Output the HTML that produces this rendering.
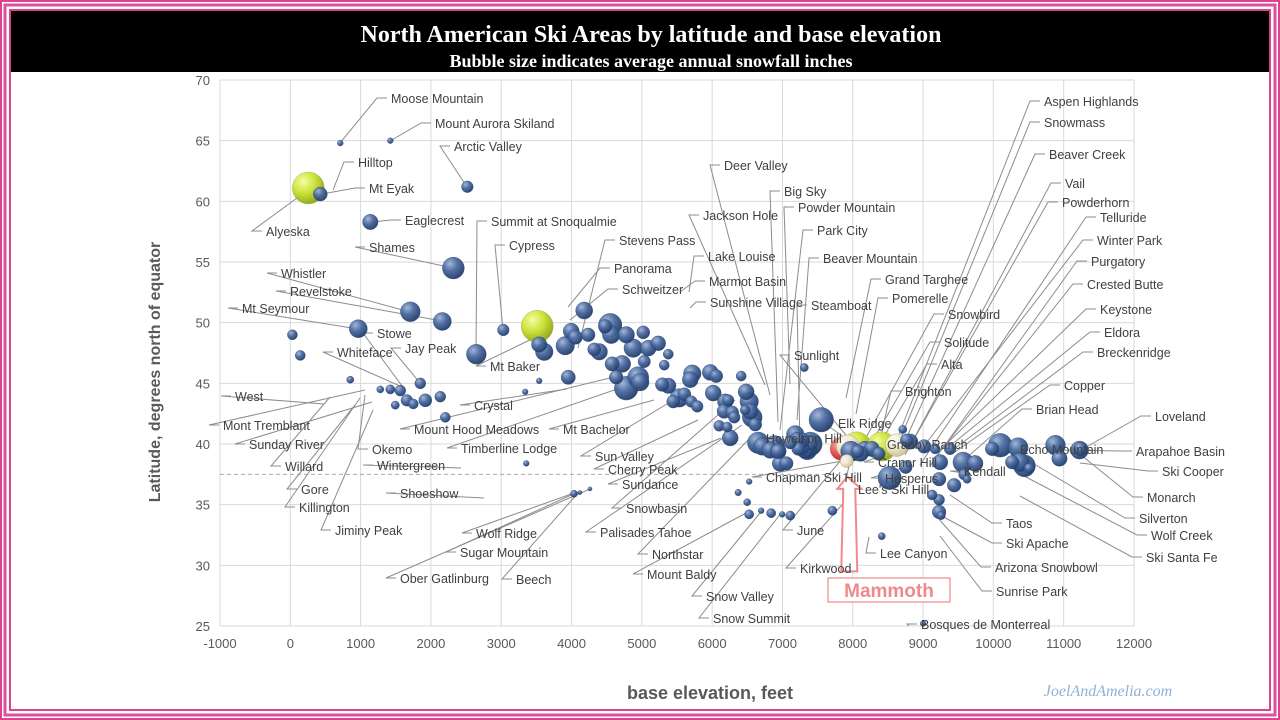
<!DOCTYPE html>
<html><head><meta charset="utf-8">
<style>
html,body{margin:0;padding:0;background:#fff;}
#wrap{position:relative;width:1280px;height:720px;overflow:hidden;background:#fff;font-family:"Liberation Sans",sans-serif;}
svg text{font-family:"Liberation Sans",sans-serif;}
</style></head>
<body>
<div id="wrap">
<svg id="chart" width="1280" height="720" viewBox="0 0 1280 720">
<defs>
<radialGradient id="gb" cx="35%" cy="30%" r="75%"><stop offset="0" stop-color="#9fb4d6"/><stop offset="0.45" stop-color="#4a6aa0"/><stop offset="1" stop-color="#1f3966"/></radialGradient>
<radialGradient id="gy" cx="35%" cy="30%" r="75%"><stop offset="0" stop-color="#f4ff9a"/><stop offset="0.5" stop-color="#c9e030"/><stop offset="1" stop-color="#8aa010"/></radialGradient>
<radialGradient id="gc" cx="35%" cy="30%" r="75%"><stop offset="0" stop-color="#ffffff"/><stop offset="0.5" stop-color="#f1ead0"/><stop offset="1" stop-color="#c8bc90"/></radialGradient>
<radialGradient id="gr" cx="35%" cy="30%" r="75%"><stop offset="0" stop-color="#ffb0b0"/><stop offset="0.5" stop-color="#e85050"/><stop offset="1" stop-color="#b02020"/></radialGradient>
</defs>
<!-- pink frame -->
<rect x="1" y="1" width="1278" height="718" fill="none" stroke="#d9448a" stroke-width="2"/>
<rect x="5" y="5" width="1270" height="710" fill="none" stroke="#e0509a" stroke-width="3"/>
<rect x="10" y="10" width="1260" height="700" fill="none" stroke="#d9448a" stroke-width="2"/>
<rect x="11" y="11" width="1258" height="61" fill="#000"/>
<text x="651" y="42" text-anchor="middle" fill="#fff" font-size="24" font-weight="bold" style="font-family:'Liberation Serif',serif">North American Ski Areas by latitude and base elevation</text>
<text x="651" y="67" text-anchor="middle" fill="#fff" font-size="18" font-weight="bold" style="font-family:'Liberation Serif',serif">Bubble size indicates average annual snowfall inches</text>
<g id="grid"></g>
<g id="leaders"></g>
<g id="bubbles"></g>
<g id="labels"></g>
<text x="160" y="372" transform="rotate(-90 160 372)" text-anchor="middle" fill="#595959" font-size="16" font-weight="bold">Latitude, degrees north of equator</text>
<text x="710" y="699" text-anchor="middle" fill="#595959" font-size="18" font-weight="bold">base elevation, feet</text>
<text x="1108" y="696" text-anchor="middle" fill="#8fb0d8" font-size="16" font-style="italic" style="font-family:'Liberation Serif',serif">JoelAndAmelia.com</text>
</svg>
</div>
<script>
const xTicks=[-1000,0,1000,2000,3000,4000,5000,6000,7000,8000,9000,10000,11000,12000];
const yTicks=[25,30,35,40,45,50,55,60,65,70];
// bubbles: elevation (ft), latitude, snowfall (in), color type
const elev=[256,427,711,1422,2518,1138,2319,1707,2162,967,3030,2646,3512,3612,4180,4479,3995,3910,4053,4237,4323,4394,3540,3953,4564,4550,4778,4877,5020,5091,5233,4578,4635,4720,4778,4948,4977,5034,5290,5319,5376,5376,5447,5532,5604,5703,5788,5689,5717,5973,6058,6228,6015,6100,6285,6314,6185,6214,6171,6257,6413,6484,6527,6612,6470,6541,6570,6655,6712,6826,6940,6883,6968,7054,6911,6940,7225,7282,7182,7396,7268,7324,7353,7396,7111,7211,7310,7552,7914,8056,7929,8412,8625,7843,7972,8070,8170,8270,8369,8113,8816,9015,8525,8753,9171,9384,9242,9583,9739,9569,8711,9442,9228,9228,9228,9257,9626,9982,10096,10268,10510,10442,10353,10883,10940,11239,11225,10380,9129,8412,7710,6498,6526,6697,6839,6996,7111,6527,6370,30,142,853,1280,1422,1493,1564,1657,1749,1849,1920,2133,2205,9000,3356,4035,4120,4262,3341,3540,8768];
const lat=[61.1,60.6,64.8,65,61.2,58.3,54.5,50.9,50.1,49.5,49.4,47.4,49.7,47.6,51.0,49.7,49.3,48.1,48.8,49.0,47.8,47.6,48.2,45.5,49.0,49.8,49.0,47.9,49.2,47.9,48.3,46.6,45.5,46.6,44.6,45.5,45.1,46.8,44.9,46.5,47.4,44.8,43.5,43.8,44.1,43.5,43.1,45.3,45.8,45.9,45.6,43.6,44.2,41.5,42.6,42.2,43.5,41.4,42.7,40.5,45.6,44.3,43.5,41.6,42.8,42.7,42.2,40.1,39.8,39.5,39.4,39.9,38.4,38.4,39.6,39.4,39.6,40.3,40.8,40.1,39.7,39.6,39.5,40.0,40.1,40.4,46.3,42.0,38.6,39.8,39.8,39.8,39.9,39.6,39.4,39.4,39.6,39.6,39.2,39.2,40.2,39.8,37.2,38.1,39.6,39.6,38.5,37.5,38.4,38.5,41.2,36.6,37.1,34.4,35.4,34.1,37.1,39.6,39.9,38.5,38.0,38.2,39.7,39.9,38.8,39.6,39.5,38.5,35.8,32.4,34.5,35.2,34.2,34.5,34.3,34.2,34.1,36.9,36.0,49.0,47.3,45.3,44.5,44.5,43.2,44.4,43.6,43.3,45.0,43.6,43.9,42.2,25.2,38.4,35.9,36.0,36.3,44.3,45.2,40.3];
const snow=[600,115,20,20,80,140,280,230,190,190,80,230,600,180,170,110,150,200,120,110,100,160,140,120,180,320,160,200,100,150,130,120,110,170,330,260,180,90,110,60,60,140,100,200,100,80,80,150,180,150,100,80,150,70,100,80,140,60,120,150,60,150,200,100,60,150,230,270,180,160,150,220,150,110,180,130,100,130,180,140,140,210,220,330,90,110,40,350,100,500,310,500,300,320,240,100,140,140,100,140,140,110,320,100,60,80,140,70,150,240,40,110,110,110,70,40,40,110,330,110,60,280,230,230,140,110,190,210,60,30,50,30,50,20,50,20,50,20,25,60,60,30,30,50,40,70,80,60,70,100,70,60,20,20,30,10,10,20,20,100,120,40];
const kind=['y','b','b','b','b','b','b','b','b','b','b','b','y','b','b','b','b','b','b','b','b','b','b','b','b','b','b','b','b','b','b','b','b','b','b','b','b','b','b','b','b','b','b','b','b','b','b','b','b','b','b','b','b','b','b','b','b','b','b','b','b','b','b','b','b','b','b','b','b','b','b','b','b','b','b','b','b','b','b','b','b','b','b','b','b','b','b','b','b','b','b','b','b','b','b','b','b','b','b','b','b','b','b','b','b','b','b','b','b','b','b','b','b','b','b','b','b','b','b','b','b','b','b','b','b','b','b','b','b','b','b','b','b','b','b','b','b','b','b','b','b','b','b','b','b','b','b','b','b','b','b','b','b','b','b','b','b','b','b','b'];
kind[88]='c';kind[89]='y';kind[90]='c';kind[91]='y';kind[92]='c';kind[93]='r';
// label annotations: text, x, y, anchor, leader target (pixel annotation)
const labels=[
["Moose Mountain",391,103,"start",340,143],["Mount Aurora Skiland",435,128,"start",390,141],["Arctic Valley",454,151,"start",467,187],
["Hilltop",358,167,"start",333,190],["Mt Eyak",369,193,"start",322,194],["Alyeska",266,236,"start",308,190],
["Eaglecrest",405,225,"start",372,222],["Summit at Snoqualmie",491,226,"start",476,354],["Shames",369,252,"start",453,268],
["Cypress",509,250,"start",503,330],["Stevens Pass",619,245,"start",578,348],["Panorama",614,273,"start",568,307],
["Lake Louise",708,261,"start",689,292],["Marmot Basin",709,286,"start",680,292],["Schweitzer",622,294,"start",570,320],
["Sunshine Village",710,307,"start",690,308],["Whistler",281,278,"start",410,312],["Revelstoke",290,296,"start",442,321],
["Mt Seymour",242,313,"start",358,329],["Stowe",377,338,"start",405,390],["Jay Peak",405,353,"start",420,383],
["Whiteface",337,357,"start",400,386],["West",235,401,"start",324,404],["Mont Tremblant",223,430,"start",365,390],
["Sunday River",249,449,"start",372,402],["Willard",285,471,"start",330,397],["Gore",301,494,"start",355,405],
["Killington",299,512,"start",360,398],["Jiminy Peak",335,535,"start",373,410],["Okemo",372,454,"start",365,395],
["Wintergreen",377,470,"start",461,468],["Shoeshow",400,498,"start",484,498],["Mt Baker",490,371,"start",538,336],
["Crystal",474,410,"start",567,389],["Mount Hood Meadows",414,434,"start",610,378],["Timberline Lodge",461,453,"start",620,388],
["Mt Bachelor",563,434,"start",654,400],["Wolf Ridge",476,538,"start",574,493],["Sugar Mountain",460,557,"start",580,491],
["Ober Gatlinburg",400,583,"start",590,489],["Beech",516,584,"start",578,493],["Sun Valley",595,461,"start",690,390],
["Cherry Peak",608,474,"start",698,420],["Sundance",622,489,"start",721,438],["Snowbasin",626,513,"start",735,400],
["Palisades Tahoe",600,537,"start",742,425],["Northstar",652,559,"start",748,440],["Mount Baldy",647,579,"start",746,513],
["Snow Valley",706,601,"start",760,513],["Snow Summit",713,623,"start",782,512],["Deer Valley",724,170,"start",770,395],
["Big Sky",784,196,"start",778,422],["Jackson Hole",703,220,"start",765,385],["Powder Mountain",798,212,"start",790,384],
["Park City",817,235,"start",780,430],["Beaver Mountain",823,263,"start",797,420],["Steamboat",811,310,"start",800,445],
["Grand Targhee",885,284,"start",846,398],["Pomerelle",892,303,"start",856,414],["Snowbird",948,319,"start",858,452],
["Solitude",944,347,"start",866,452],["Alta",941,369,"start",873,455],["Sunlight",794,360,"start",850,440],
["Brighton",905,396,"start",880,440],["Elk Ridge",838,428,"start",848,440],["Howelson Hill",766,443,"start",790,440],
["Granby Ranch",887,449,"start",897,440],["Cranor Hill",878,467,"start",910,446],["Chapman Ski Hill",766,482,"start",848,460],
["Hesperus",885,483,"start",905,467],["Lee's Ski Hill",858,494,"start",850,461],["June",797,535,"start",841,460],
["Kirkwood",800,573,"start",848,498],["Lee Canyon",880,558,"start",869,537],["Bosques de Monterreal",921,629,"start",909,626],
["Kendall",964,476,"start",964,473],["Echo Mountain",1020,454,"start",1012,451],
["Aspen Highlands",1044,106,"start",892,452],["Snowmass",1044,127,"start",895,452],["Beaver Creek",1049,159,"start",900,452],
["Vail",1065,188,"start",910,446],["Powderhorn",1062,207,"start",905,455],["Telluride",1100,222,"start",920,465],
["Winter Park",1097,245,"start",924,446],["Purgatory",1091,266,"start",930,466],["Crested Butte",1087,289,"start",935,458],
["Keystone",1100,314,"start",940,450],["Eldora",1104,337,"start",945,450],["Breckenridge",1097,357,"start",950,452],
["Copper",1064,390,"start",955,452],["Brian Head",1036,414,"start",964,460],["Loveland",1155,421,"start",1081,450],
["Arapahoe Basin",1136,456,"start",1060,450],["Ski Cooper",1162,476,"start",1080,463],["Monarch",1147,502,"start",1081,455],
["Silverton",1139,523,"start",1029,461],["Wolf Creek",1151,540,"start",1024,476],["Ski Santa Fe",1146,562,"start",1020,496],
["Taos",1006,528,"start",950,495],["Ski Apache",1006,548,"start",938,514],["Arizona Snowbowl",995,572,"start",938,518],
["Sunrise Park",996,596,"start",940,536]
];
const X0=220,X1=1134,Y0=626,Y1=80;
function sx(v){return X0+(v-(-1000))/13000*(X1-X0);}
function sy(v){return Y0-(v-25)/45*(Y0-Y1);}
const NS='http://www.w3.org/2000/svg';
function mk(tag,attrs,parent){const e=document.createElementNS(NS,tag);for(const k in attrs)e.setAttribute(k,attrs[k]);parent.appendChild(e);return e;}
const grid=document.getElementById('grid');
xTicks.forEach(t=>{
 const l=mk('line',{x1:sx(t),x2:sx(t),y1:Y1,y2:Y0,stroke:'#d9d9d9','stroke-width':1},grid);
 
 
 const tx=mk('text',{x:sx(t),y:Y0+22,'text-anchor':'middle','font-size':13,fill:'#595959'},grid);
 tx.textContent=t;
 
 
});
yTicks.forEach(t=>{
 const l=mk('line',{x1:X0,x2:X1,y1:sy(t),y2:sy(t),stroke:'#d9d9d9','stroke-width':1},grid);
 
 
 const tx=mk('text',{x:X0-10,y:sy(t)+5,'text-anchor':'end','font-size':13,fill:'#595959'},grid);
 tx.textContent=t;
 
 
});
const ref=mk('line',{x1:X0,x2:sx(7950),y1:sy(37.5),y2:sy(37.5),stroke:'#aaa','stroke-dasharray':'4,3','stroke-width':1},grid);


const lg=document.getElementById('leaders');
labels.forEach(L=>{
 const l=mk('polyline',{points:`${L[4]},${L[5]} ${L[1]-14},${L[2]-5} ${L[1]-4},${L[2]-5}`,fill:'none',stroke:'#8c8c8c','stroke-width':1},lg);
 
 
});
const bg=document.getElementById('bubbles');
const fills={b:'url(#gb)',y:'url(#gy)',c:'url(#gc)',r:'url(#gr)'};
const order=elev.map((e,i)=>i).sort((a,b)=>snow[b]-snow[a]);
order.forEach(i=>{
 const r=Math.max(2,Math.sqrt(snow[i]/600)*16);
 const c=mk('circle',{cx:sx(elev[i]),cy:sy(lat[i]),r:r,fill:fills[kind[i]],stroke:kind[i]==='b'?'#2a4676':'#a0a060','stroke-width':0.4,opacity:0.95},bg);
 
 
});
// Mammoth arrow + box
const ag=document.getElementById('labels');
const mx=sx(7950);
const arrow=mk('polygon',{points:`${mx-2},${sy(37.3)} ${mx+12},${sy(36.3)} ${mx+6},${sy(36.3)} ${mx+8},${sy(29.5)} ${mx-8},${sy(29.5)} ${mx-6},${sy(36.3)} ${mx-12},${sy(36.3)}`,fill:'#fff',stroke:'#f08a8a','stroke-width':2},ag);


const box=mk('rect',{x:828,y:578,width:122,height:24,fill:'#fff',stroke:'#f0a0a0','stroke-width':1.5},ag);


const mt=mk('text',{x:889,y:597,'text-anchor':'middle','font-size':19,'font-weight':'bold',fill:'#f08a8a'},ag);
mt.textContent='Mammoth';


labels.forEach(L=>{
 const t=mk('text',{x:L[1],y:L[2],'text-anchor':L[3],'font-size':12.5,fill:'#404040'},ag);
 t.textContent=L[0];
 
 
});
</script>
</body></html>
